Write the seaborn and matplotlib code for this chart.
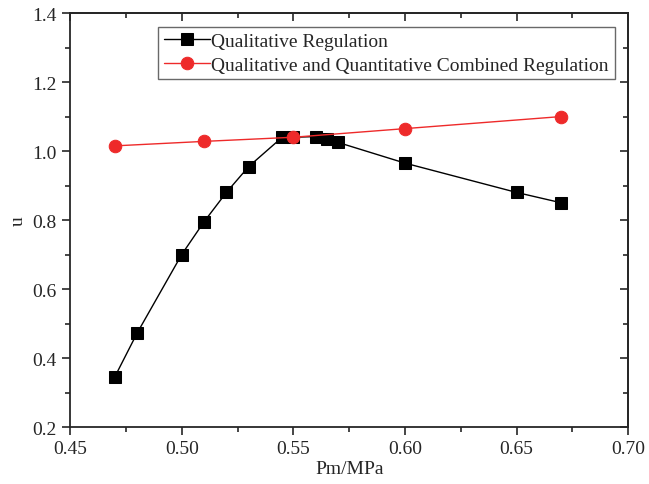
import matplotlib
matplotlib.use('Agg')
import matplotlib.pyplot as plt
import seaborn as sns
import pandas as pd
from matplotlib.ticker import MultipleLocator

# ── Data ───────────────────────────────────────────────────────────────────────
pm_qual = [0.47, 0.48, 0.50, 0.51, 0.52, 0.53, 0.545, 0.55, 0.56, 0.565, 0.57, 0.60, 0.65, 0.67]
u_qual = [0.345, 0.472, 0.700, 0.795, 0.880, 0.955, 1.040, 1.040, 1.042, 1.035, 1.025, 0.965, 0.880, 0.850]

pm_comb = [0.47, 0.51, 0.55, 0.60, 0.67]
u_comb = [1.015, 1.028, 1.040, 1.065, 1.100]

label_qual = 'Qualitative Regulation'
label_comb = 'Qualitative and Quantitative Combined Regulation'

df_qual = pd.DataFrame({'Pm': pm_qual, 'u': u_qual})
df_comb = pd.DataFrame({'Pm': pm_comb, 'u': u_comb})

sns.set_style('ticks')
plt.rcParams['font.family'] = ['Liberation Serif', 'DejaVu Serif']
plt.rcParams['font.size'] = 14

fig = plt.figure(figsize=(6.49, 4.85), dpi=100)
ax = fig.add_axes([0.108, 0.1175, 0.860, 0.8535])

sns.lineplot(data=df_qual, x='Pm', y='u', ax=ax, color='black', marker='s',
             markersize=8, markeredgecolor='black', linewidth=1, label=label_qual)
sns.lineplot(data=df_comb, x='Pm', y='u', ax=ax, color='#ee2a2a', marker='o',
             markersize=9, markeredgecolor='#ee2a2a', linewidth=1, label=label_comb)

ax.set_xlim(0.45, 0.70)
ax.set_ylim(0.2, 1.4)
ax.xaxis.set_major_locator(MultipleLocator(0.05))
ax.xaxis.set_minor_locator(MultipleLocator(0.025))
ax.yaxis.set_major_locator(MultipleLocator(0.2))
ax.yaxis.set_minor_locator(MultipleLocator(0.1))
ax.xaxis.set_major_formatter(matplotlib.ticker.FormatStrFormatter('%.2f'))
ax.yaxis.set_major_formatter(matplotlib.ticker.FormatStrFormatter('%.1f'))
ax.tick_params(which='major', direction='out', length=6, width=1.2, labelsize=14)
ax.tick_params(which='minor', direction='out', length=3.5, width=1.2)

# top / right axes with inward ticks, Origin style
top = ax.secondary_xaxis('top')
top.xaxis.set_major_locator(MultipleLocator(0.05))
top.xaxis.set_minor_locator(MultipleLocator(0.025))
top.tick_params(which='major', direction='in', length=6, width=1.2, labeltop=False)
top.tick_params(which='minor', direction='in', length=3.5, width=1.2)
right = ax.secondary_yaxis('right')
right.yaxis.set_major_locator(MultipleLocator(0.2))
right.yaxis.set_minor_locator(MultipleLocator(0.1))
right.tick_params(which='major', direction='in', length=6, width=1.2, labelright=False)
right.tick_params(which='minor', direction='in', length=3.5, width=1.2)

for sp in ax.spines.values():
    sp.set_visible(True)
    sp.set_linewidth(1.3)
for sp in list(top.spines.values()) + list(right.spines.values()):
    sp.set_linewidth(1.3)

ax.set_xlabel('Pm/MPa', fontsize=14, labelpad=2)
ax.set_ylabel('u', fontsize=14, labelpad=4)

leg = ax.legend(loc='upper right', fontsize=14, frameon=True, fancybox=False,
                edgecolor='#444444', borderaxespad=0.7, handlelength=2.4,
                handletextpad=0.05, borderpad=0.3, labelspacing=0.3)
leg.get_frame().set_linewidth(1.0)

plt.savefig('out.png', dpi=100)
plt.close()
